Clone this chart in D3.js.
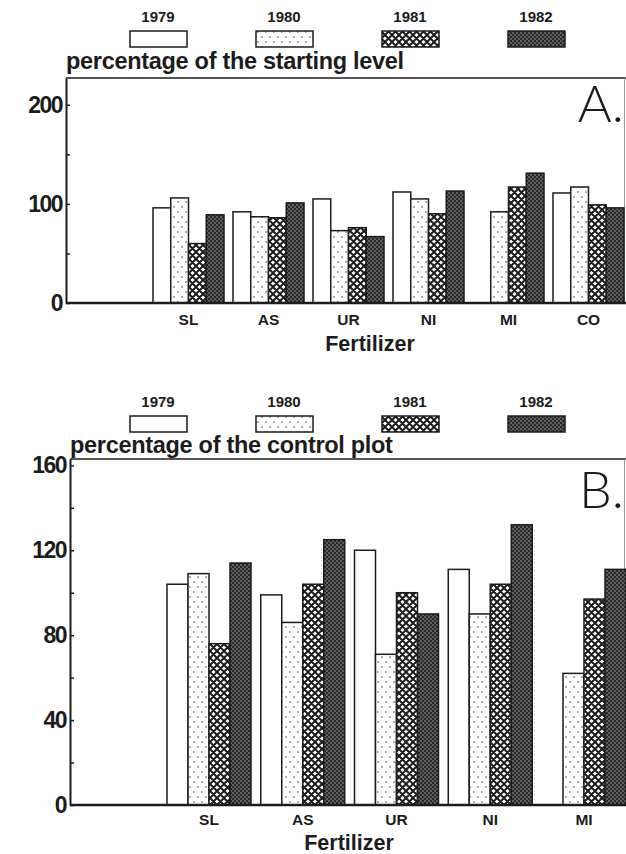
<!DOCTYPE html>
<html>
<head>
<meta charset="utf-8">
<script src="https://cdn.jsdelivr.net/npm/d3@7"></script>
<style>
  body { margin: 0; background: #fff; }
  text { font-family: "Liberation Sans", Arial, sans-serif; fill: #1c1c1c; }
</style>
</head>
<body>
<svg id="chart" width="626" height="854"></svg>
<script>
// Chart data
const years = ["1979", "1980", "1981", "1982"];

// Panel A - percentage of the starting level
const categoriesA = ["SL", "AS", "UR", "NI", "MI", "CO"];
const a1979 = [96, 92, 105, 112, null, 111];
const a1980 = [106, 87, 73, 105, 92, 117];
const a1981 = [60, 86, 76, 90, 117, 99];
const a1982 = [89, 101, 67, 113, 131, 96];
const ticksA = [0, 100, 200];
const minorTicksA = [50, 150];

// Panel B - percentage of the control plot
const categoriesB = ["SL", "AS", "UR", "NI", "MI"];
const b1979 = [104, 99, 120, 111, null];
const b1980 = [109, 86, 71, 90, 62];
const b1981 = [76, 104, 100, 104, 97];
const b1982 = [114, 125, 90, 132, 111];
const ticksB = [0, 40, 80, 120, 160];
const minorTicksB = [20, 60, 100, 140];

const svg = d3.select("#chart");
const ink = "#1c1c1c";

// --- fill patterns for the four years ---
const defs = svg.append("defs");

const dots = defs.append("pattern")
    .attr("id", "p1980").attr("patternUnits", "userSpaceOnUse")
    .attr("width", 8).attr("height", 10);
dots.append("rect").attr("width", 8).attr("height", 10).attr("fill", "#fff");
dots.append("circle").attr("cx", 2).attr("cy", 2).attr("r", 0.8).attr("fill", "#444");
dots.append("circle").attr("cx", 6).attr("cy", 7).attr("r", 0.8).attr("fill", "#444");

// crosshatch: white diamonds between thick diagonal lines
const hatch = defs.append("pattern")
    .attr("id", "p1981").attr("patternUnits", "userSpaceOnUse")
    .attr("width", 7).attr("height", 7);
hatch.append("rect").attr("width", 7).attr("height", 7).attr("fill", "#fff");
hatch.append("path")
    .attr("d", "M0,0L7,7M7,0L0,7M-3.5,3.5L3.5,10.5M3.5,-3.5L10.5,3.5M-3.5,3.5L3.5,-3.5M3.5,10.5L10.5,3.5")
    .attr("stroke", ink).attr("stroke-width", 2);

const dark = defs.append("pattern")
    .attr("id", "p1982").attr("patternUnits", "userSpaceOnUse")
    .attr("width", 4).attr("height", 4);
dark.append("rect").attr("width", 4).attr("height", 4).attr("fill", "#2a2a2a");
dark.append("circle").attr("cx", 1).attr("cy", 1).attr("r", 0.7).attr("fill", "#bbb");
dark.append("circle").attr("cx", 3).attr("cy", 3).attr("r", 0.7).attr("fill", "#bbb");

const fills = { "1979": "#fff", "1980": "url(#p1980)", "1981": "url(#p1981)", "1982": "url(#p1982)" };

function drawPanel(cfg) {
    const g = svg.append("g");

    // legend
    const lx = d3.scalePoint().domain(years).range([158, 536]);
    years.forEach(yr => {
        g.append("text")
            .attr("x", lx(yr)).attr("y", cfg.legendY)
            .attr("text-anchor", "middle")
            .style("font-size", "15px").style("font-weight", "bold")
            .text(yr);
        g.append("rect")
            .attr("x", lx(yr) - 28).attr("y", cfg.legendY + 9)
            .attr("width", 57).attr("height", 16)
            .attr("fill", fills[yr]).attr("stroke", ink).attr("stroke-width", 1.5);
    });

    // title above frame
    g.append("text")
        .attr("x", cfg.axisX).attr("y", cfg.titleY)
        .style("font-size", "23.5px").style("font-weight", "bold")
        .attr("letter-spacing", "-0.3")
        .text(cfg.title);

    const y = d3.scaleLinear().domain([0, cfg.yTop]).range([cfg.baseY, cfg.frameY]);
    const x = d3.scaleBand().domain(cfg.categories)
        .range(cfg.bandRange).paddingInner(cfg.padding).paddingOuter(0);
    const xs = d3.scaleBand().domain(years).range([0, x.bandwidth()]);

    // frame
    g.append("line").attr("x1", cfg.axisX).attr("x2", 626)
        .attr("y1", cfg.frameY).attr("y2", cfg.frameY)
        .attr("stroke", ink).attr("stroke-width", 1.5);
    g.append("line").attr("x1", 624.5).attr("x2", 624.5)
        .attr("y1", cfg.frameY).attr("y2", cfg.baseY)
        .attr("stroke", "#999").attr("stroke-width", 1);

    // bars
    cfg.categories.forEach((c, i) => {
        years.forEach((yr, k) => {
            const v = cfg.series[k][i];
            if (v == null) return;
            g.append("rect")
                .attr("x", x(c) + xs(yr))
                .attr("y", y(v))
                .attr("width", xs.bandwidth())
                .attr("height", y(0) - y(v))
                .attr("fill", fills[yr])
                .attr("stroke", ink).attr("stroke-width", 1.5);
        });
    });

    // y axis
    const yAxis = g.append("g")
        .attr("transform", `translate(${cfg.axisX},0)`)
        .call(d3.axisLeft(y).tickValues(cfg.ticks).tickSizeInner(-4).tickSizeOuter(0).tickPadding(4));
    yAxis.select(".domain").attr("stroke", ink).attr("stroke-width", 2);
    yAxis.selectAll(".tick line").attr("stroke", ink).attr("stroke-width", 1.5);
    yAxis.selectAll(".tick text")
        .style("font-size", "23px").style("font-weight", "bold")
        .attr("fill", ink).attr("letter-spacing", "-1.5");

    const yMinor = g.append("g")
        .attr("transform", `translate(${cfg.axisX},0)`)
        .call(d3.axisLeft(y).tickValues(cfg.minorTicks).tickSizeInner(-4).tickSizeOuter(0).tickFormat(""));
    yMinor.select(".domain").remove();
    yMinor.selectAll(".tick line").attr("stroke", ink).attr("stroke-width", 1.5);

    // x axis
    g.append("line").attr("x1", cfg.axisX).attr("x2", 626)
        .attr("y1", cfg.baseY).attr("y2", cfg.baseY)
        .attr("stroke", ink).attr("stroke-width", 2.5);
    const xAxis = g.append("g")
        .attr("transform", `translate(0,${cfg.baseY})`)
        .call(d3.axisBottom(x).tickSize(0).tickPadding(cfg.catPad));
    xAxis.select(".domain").remove();
    xAxis.selectAll(".tick text")
        .style("font-size", "15.5px").style("font-weight", "bold").attr("fill", ink);

    g.append("text")
        .attr("x", cfg.xTitleX).attr("y", cfg.xTitleY)
        .attr("text-anchor", "middle")
        .style("font-size", "21.5px").style("font-weight", "bold")
        .text("Fertilizer");

    // panel letter
    g.append("text")
        .attr("x", 624).attr("y", cfg.letterY)
        .attr("text-anchor", "end")
        .style("font-size", "52px")
        .style("font-family", "Lato, 'Liberation Sans', sans-serif")
        .style("font-weight", 300)
        .text(cfg.letter);
}

drawPanel({
    categories: categoriesA,
    series: [a1979, a1980, a1981, a1982],
    ticks: ticksA, minorTicks: minorTicksA,
    title: "percentage of the starting level",
    legendY: 22, titleY: 69,
    yTop: 227, frameY: 78, baseY: 303,
    axisX: 66, bandRange: [153, 624], padding: 0.1125,
    catPad: 11, xTitleX: 370, xTitleY: 351,
    letter: "A.", letterY: 122
});

drawPanel({
    categories: categoriesB,
    series: [b1979, b1980, b1981, b1982],
    ticks: ticksB, minorTicks: minorTicksB,
    title: "percentage of the control plot",
    legendY: 407, titleY: 453,
    yTop: 163, frameY: 459, baseY: 805,
    axisX: 70, bandRange: [167, 626], padding: 0.104,
    catPad: 9, xTitleX: 349, xTitleY: 850,
    letter: "B.", letterY: 508
});
</script>
</body>
</html>
